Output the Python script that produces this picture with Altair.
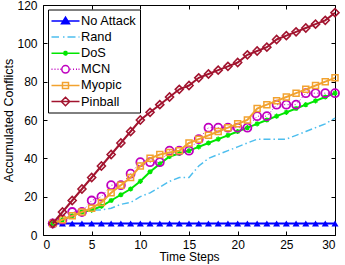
import altair as alt
import pandas as pd

time_steps = [1, 2, 3, 4, 5, 6, 7, 8, 9, 10, 11, 12, 13, 14, 15,
              16, 17, 18, 19, 20, 21, 22, 23, 24, 25, 26, 27, 28, 29, 30]

series_names = ["No Attack", "Rand", "DoS", "MCN", "Myopic", "Pinball"]

no_attack = [6, 6, 6, 6, 6, 6, 6, 6, 6, 6, 6, 6, 6, 6, 6,
             6, 6, 6, 6, 6, 6, 6, 6, 6, 6, 6, 6, 6, 6, 6]
rand = [6, 8, 10, 12, 13, 13, 14, 16, 17, 20, 22, 25, 28, 30, 30,
        36, 40, 42, 44, 46, 48, 50, 50, 50, 50, 52, 54, 56, 58, 61]
dos = [6, 8, 10, 12, 13, 15, 18, 21, 24, 28, 33, 37, 41, 42.5, 44,
       46, 48, 50, 52, 54, 56, 58, 60, 62, 64, 66, 68, 70, 72, 74]
mcn = [6, 8, 12, 12, 18, 20, 26, 26, 32, 38, 38, 38, 44, 44, 44,
       50, 56, 56, 56, 56, 56, 62, 62, 68, 68, 68, 74, 74, 74, 74]
myopic = [6, 8, 10, 12, 14, 17, 22, 26, 30, 36, 40, 42, 43, 44, 48,
          50, 52, 54, 56, 58, 60, 66, 68, 70, 72, 74, 76, 78, 80, 82]
pinball = [6, 12, 18, 24, 30, 36, 42, 48, 54, 60, 64, 68, 72, 76, 78,
           82, 84, 86, 88, 90, 94, 96, 98, 102, 104, 106, 108, 110, 112, 116]

series_values = [no_attack, rand, dos, mcn, myopic, pinball]

x_ticks = [0, 5, 10, 15, 20, 25, 30]
y_ticks = [0, 20, 40, 60, 80, 100, 120]

rows = []
for name, vals in zip(series_names, series_values):
    for t, v in zip(time_steps, vals):
        rows.append({"series": name, "t": t, "v": v})
df = pd.DataFrame(rows)

W, H = 292, 230
FONT = "Liberation Sans"

line_colors = ["#0000FF", "#4DBEEE", "#00E600", "#BF00BF", "#F2A22F", "#A2142F"]
line_widths = [2, 1.5, 2, 1, 2, 2]
line_dashes = [None, [7, 3, 1.5, 3], None, [1, 2.5], None, None]

asterisk = "M-1,0H1M0,-1V1M-0.7,-0.7L0.7,0.7M-0.7,0.7L0.7,-0.7"
marker_shapes = ["triangle-up", None, asterisk, "circle", "square", "diamond"]
marker_sizes = [49, 0, 26, 64, 36, 64]
marker_filled = [True, False, False, False, False, False]
marker_sw = [1, 1, 1.3, 1.8, 1.5, 1.6]

# legend symbols: line sample + marker, drawn as custom paths
legend_paths = [
    "M-1.143,0H2.857M0.857,-0.55L1.43,0.4L0.284,0.4Z",
    "M-1.143,0H-0.071M0.5,0H0.714M1.143,0H2.286M2.714,0H2.857",
    "M-1.143,0H2.857M0.497,0H1.217M0.857,-0.36V0.36M0.6,-0.26L1.11,0.26M0.6,0.26L1.11,-0.26",
    "M-1.143,0H-1.0M-0.714,0H-0.571M-0.286,0H-0.143M0.1,0H0.2"
    "M1.55,0H1.65M1.929,0H2.071M2.357,0H2.5M2.714,0H2.857"
    "M1.387,0A0.53,0.53 0 1,1 0.327,0A0.53,0.53 0 1,1 1.387,0Z",
    "M-1.143,0H2.857M0.427,-0.43H1.287V0.43H0.427Z",
    "M-1.143,0H2.857M0.857,-0.6L1.457,0L0.857,0.6L0.257,0Z",
]
legend_fills = ["#0000FF", "transparent", "transparent", "transparent",
                "transparent", "transparent"]

xs = alt.Scale(domain=[0, 30], nice=False, zero=False)
ys = alt.Scale(domain=[0, 120], nice=False)

base = alt.Chart(df)
layers = []
for i, name in enumerate(series_names):
    sub = base.transform_filter(alt.datum.series == name)
    enc = dict(x=alt.X("t:Q", scale=xs, axis=None), y=alt.Y("v:Q", scale=ys, axis=None))
    lk = dict(color=line_colors[i], strokeWidth=line_widths[i])
    if line_dashes[i] is not None:
        lk["strokeDash"] = line_dashes[i]
    layers.append(sub.mark_line(**lk).encode(**enc))
    if marker_shapes[i] is not None:
        layers.append(sub.mark_point(shape=marker_shapes[i], size=marker_sizes[i],
                                     filled=marker_filled[i], color=line_colors[i],
                                     strokeWidth=marker_sw[i], opacity=1).encode(**enc))

empty = base.transform_filter("false").mark_point()

ax_main = empty.encode(
    x=alt.X("t:Q", scale=xs, axis=alt.Axis(orient="bottom", values=x_ticks, title="Time Steps",
                                           ticks=False, tickSize=0, domain=False, grid=False,
                                           labelPadding=4, titlePadding=1.5, titleFontSize=12,
                                           format="d")),
    y=alt.Y("v:Q", scale=ys, axis=alt.Axis(orient="left", values=y_ticks,
                                           title="Accumulated Conflicts",
                                           ticks=False, tickSize=0, domain=False, grid=False,
                                           labelPadding=6, titlePadding=1, format="d")),
)
ax_in1 = empty.encode(
    x=alt.X("t:Q", scale=xs, axis=alt.Axis(orient="bottom", offset=-H, values=x_ticks, title=None,
                                           labels=False, ticks=True, tickSize=4, domain=False,
                                           grid=False)),
    y=alt.Y("v:Q", scale=ys, axis=alt.Axis(orient="left", offset=-W, values=y_ticks, title=None,
                                           labels=False, ticks=True, tickSize=4, domain=False,
                                           grid=False)),
)
ax_in2 = empty.encode(
    x=alt.X("t:Q", scale=xs, axis=alt.Axis(orient="top", offset=-H, values=x_ticks, title=None,
                                           labels=False, ticks=True, tickSize=4, domain=False,
                                           grid=False)),
    y=alt.Y("v:Q", scale=ys, axis=alt.Axis(orient="right", offset=-W, values=y_ticks, title=None,
                                           labels=False, ticks=True, tickSize=4, domain=False,
                                           grid=False)),
)

leg = alt.Legend(title=None, orient="none", legendX=5, legendY=4.5, padding=3.5,
                 strokeColor="black", fillColor="white", labelFont=FONT, labelFontSize=12.8,
                 labelColor="black", labelOffset=13.5, rowPadding=1.1, symbolSize=196,
                 symbolStrokeWidth=1.5, cornerRadius=0)
legend_layer = base.transform_filter("false").mark_point(filled=False, opacity=1).encode(
    x=alt.X("t:Q", scale=xs, axis=None),
    y=alt.Y("v:Q", scale=ys, axis=None),
    stroke=alt.Stroke("series:N", scale=alt.Scale(domain=series_names, range=line_colors), legend=leg),
    fill=alt.Fill("series:N", scale=alt.Scale(domain=series_names, range=legend_fills), legend=leg),
    shape=alt.Shape("series:N", scale=alt.Scale(domain=series_names, range=legend_paths), legend=leg),
)

chart = alt.layer(ax_main, ax_in1, ax_in2, *layers, legend_layer).resolve_axis(
    x="independent", y="independent"
).properties(
    width=W, height=H,
    padding={"left": 43, "top": 5, "right": 10, "bottom": 30},
    autosize=alt.AutoSizeParams(type="none"),
).configure_view(
    stroke="black", strokeWidth=1
).configure_axis(
    labelFont=FONT, titleFont=FONT, labelFontSize=12, titleFontSize=12.5,
    labelColor="black", titleColor="black", tickColor="black", tickWidth=1,
    titleFontWeight="normal",
)

chart.save("out.html", embed_options={"renderer": "svg", "actions": False})
